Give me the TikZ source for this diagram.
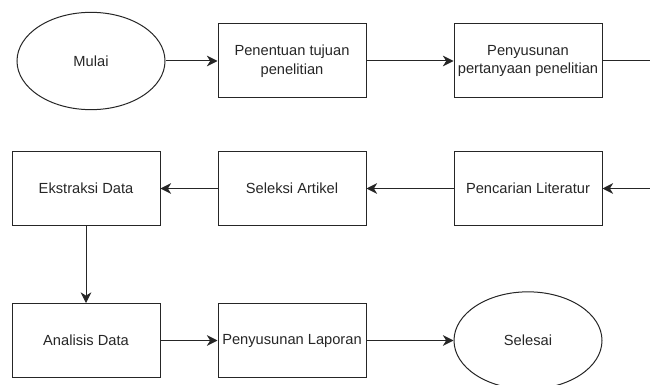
\documentclass[tikz,border=0pt]{standalone}
\usepackage{fontspec}
\setmainfont{Liberation Sans}
\usetikzlibrary{arrows.meta,shapes.geometric}
\begin{document}
\begin{tikzpicture}[x=0.75pt,y=-0.75pt,
  txt/.style={text=black!85, font=\fontsize{11}{14}\selectfont, align=center},
  boxnode/.style={txt, draw=black!85, line width=0.75pt, rectangle, minimum width=111pt, minimum height=55.5pt, inner sep=0pt},
  ovalnode/.style={txt, draw=black!85, line width=0.75pt, ellipse, minimum width=111pt, minimum height=73pt, inner sep=0pt},
  conn/.style={draw=black!85, line width=0.75pt, -{Stealth[length=8pt,width=8pt,inset=2.5pt]}},
  plain/.style={draw=black!85, line width=0.75pt}]
\useasboundingbox (0,0) rectangle (650,385);
\clip (0,0) rectangle (650,385);
\node[ovalnode] (mulai) at (91,61) {Mulai};
\node[boxnode] (tujuan) at (292,61) {Penentuan tujuan\\penelitian};
\node[boxnode] (pertanyaan) at (528,61) {Penyusunan\\pertanyaan penelitian};
\node[boxnode] (ekstraksi) at (86,188.5) {Ekstraksi Data};
\node[boxnode] (seleksi) at (292,188.5) {Seleksi Artikel};
\node[boxnode] (pencarian) at (528,188.5) {Pencarian Literatur};
\node[boxnode] (analisis) at (86,340.5) {Analisis Data};
\node[boxnode] (laporan) at (292,340.5) {Penyusunan Laporan};
\node[ovalnode] (selesai) at (528,340.5) {Selesai};
\coordinate (outR) at (652,61);
\coordinate (inR) at (652,188.5);
\draw[conn] (mulai) -- (tujuan);
\draw[conn] (tujuan) -- (pertanyaan);
\draw[plain] (pertanyaan.east) -- (outR);
\draw[conn] (inR) -- (pencarian.east);
\draw[conn] (pencarian) -- (seleksi);
\draw[conn] (seleksi) -- (ekstraksi);
\draw[conn] (ekstraksi) -- (analisis);
\draw[conn] (analisis) -- (laporan);
\draw[conn] (laporan) -- (selesai);
\end{tikzpicture}
\end{document}
